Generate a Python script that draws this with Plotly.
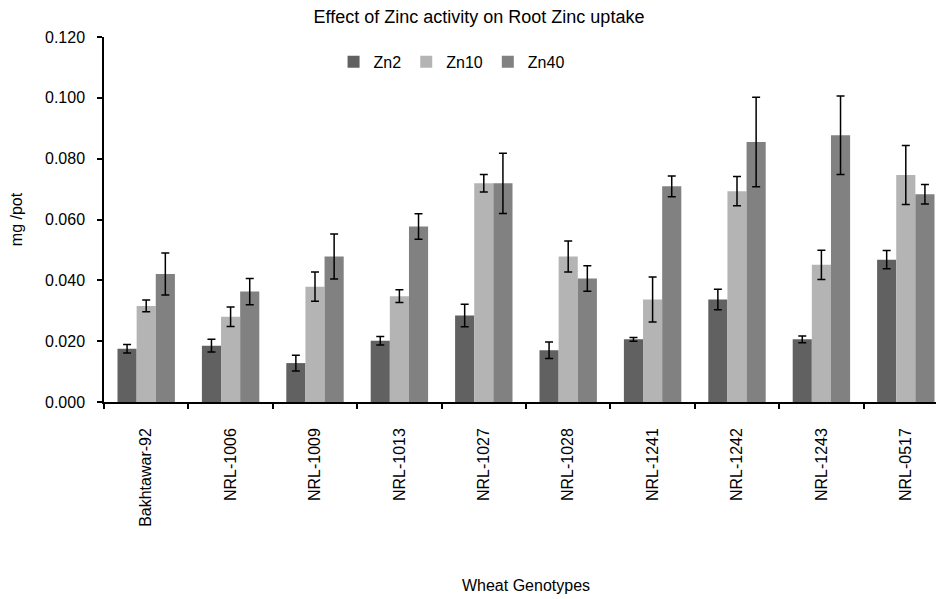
import plotly.graph_objects as go

genotypes = ["Bakhtawar-92", "NRL-1006", "NRL-1009", "NRL-1013", "NRL-1027",
             "NRL-1028", "NRL-1241", "NRL-1242", "NRL-1243", "NRL-0517"]

zn2 = [0.0175, 0.0185, 0.0128, 0.0201, 0.0284, 0.0170, 0.0206, 0.0337, 0.0206, 0.0468]
zn2_err = [0.0014, 0.0021, 0.0026, 0.0014, 0.0037, 0.0027, 0.0006, 0.0034, 0.0011, 0.0030]

zn10 = [0.0316, 0.0280, 0.0379, 0.0348, 0.0719, 0.0478, 0.0337, 0.0693, 0.0451, 0.0746]
zn10_err = [0.0019, 0.0032, 0.0048, 0.0021, 0.0029, 0.0051, 0.0074, 0.0048, 0.0048, 0.0097]

zn40 = [0.0421, 0.0363, 0.0478, 0.0577, 0.0719, 0.0406, 0.0709, 0.0855, 0.0877, 0.0683]
zn40_err = [0.0069, 0.0043, 0.0074, 0.0042, 0.0099, 0.0042, 0.0034, 0.0147, 0.0129, 0.0032]

series = [("Zn2", zn2, zn2_err, "#616161"),
          ("Zn10", zn10, zn10_err, "#b4b4b4"),
          ("Zn40", zn40, zn40_err, "#818181")]

FONT = "Liberation Sans, Arial, sans-serif"

fig = go.Figure()
for name, vals, errs, color in series:
    fig.add_trace(go.Bar(
        name=name, x=genotypes, y=vals,
        marker=dict(color=color, line=dict(width=0)),
        error_y=dict(type="data", array=errs, visible=True,
                     color="black", thickness=1.5, width=4),
    ))

fig.update_layout(
    width=944, height=599,
    paper_bgcolor="white", plot_bgcolor="white",
    barmode="group", bargap=0.32, bargroupgap=0,
    margin=dict(l=96, r=4, t=29, b=205, autoexpand=False),
    font=dict(family=FONT, size=16, color="black"),
    title=dict(text="Effect of Zinc activity on Root Zinc uptake",
               font=dict(family=FONT, size=18, color="black"),
               x=471 / 944, xanchor="center", xref="container",
               y=1 - 9 / 599, yanchor="middle", yref="container"),
    legend=dict(orientation="h", x=0.272, xanchor="left",
                y=0.932, yanchor="middle",
                font=dict(family=FONT, size=16, color="black"),
                bgcolor="rgba(0,0,0,0)"),
    showlegend=True,
)

fig.update_xaxes(
    type="category", tickangle=-90, tickson="boundaries",
    ticks="outside", ticklen=5, tickcolor="black", tickwidth=1.5,
    showline=True, linecolor="black", linewidth=1.5,
    showgrid=False, ticklabelstandoff=18, automargin=False,
    tickfont=dict(family=FONT, size=16, color="black"),
    title=dict(text="Wheat Genotypes", standoff=54,
               font=dict(family=FONT, size=16, color="black")),
)

fig.update_yaxes(
    range=[0, 0.12], dtick=0.02, tickformat=".3f",
    ticks="outside", ticklen=5, tickcolor="black", tickwidth=1.5,
    showline=True, linecolor="black", linewidth=1.5,
    showgrid=False, zeroline=False, automargin=False,
    ticklabelstandoff=9,
    tickfont=dict(family=FONT, size=16, color="black"),
    title=dict(text="mg /pot", standoff=19,
               font=dict(family=FONT, size=16, color="black")),
)

fig.write_html("out.html")
